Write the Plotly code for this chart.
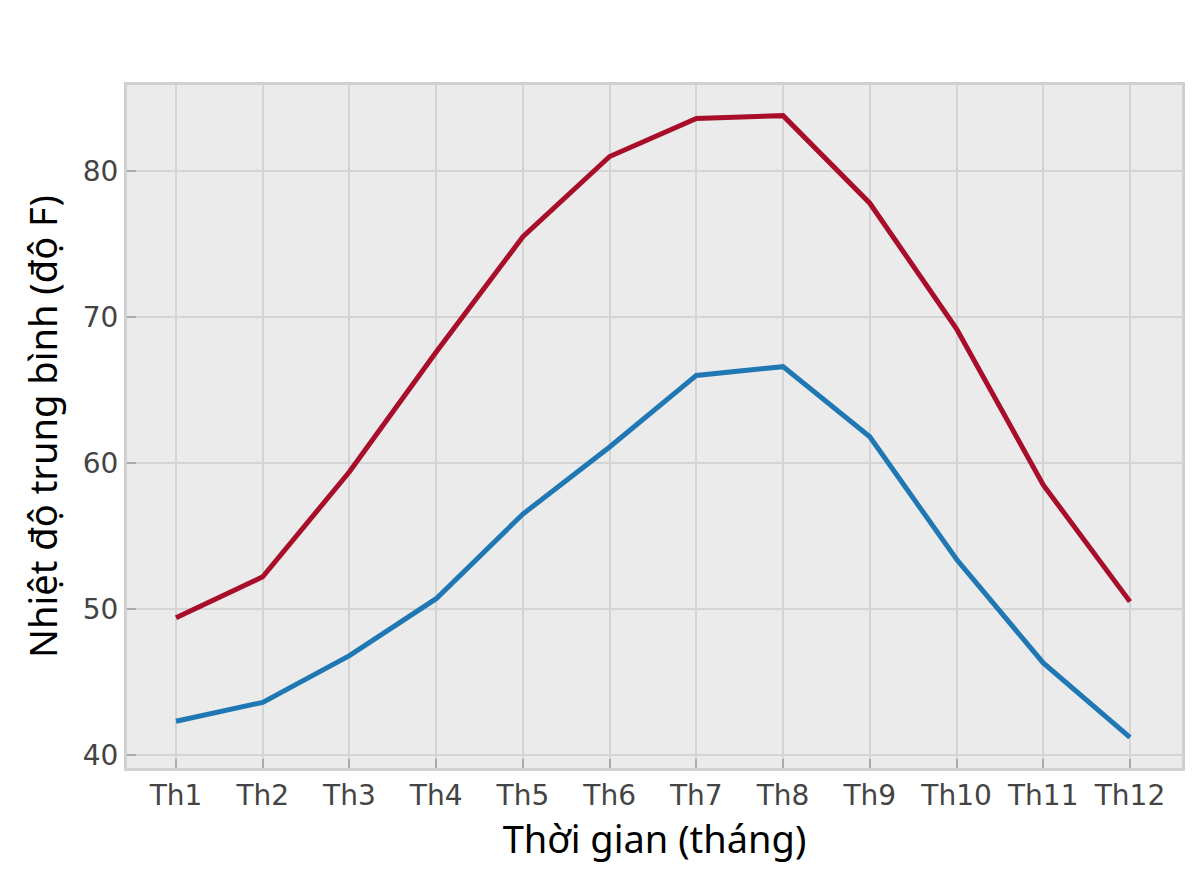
import plotly.graph_objects as go

# months and average temperatures (deg F)
months = ['Th1', 'Th2', 'Th3', 'Th4', 'Th5', 'Th6',
          'Th7', 'Th8', 'Th9', 'Th10', 'Th11', 'Th12']
temp_high = [49.4, 52.2, 59.4, 67.6, 75.5, 81.0, 83.6, 83.8, 77.8, 69.2, 58.5, 50.5]
temp_low = [42.3, 43.6, 46.8, 50.7, 56.5, 61.1, 66.0, 66.6, 61.8, 53.4, 46.3, 41.2]

fig = go.Figure()
fig.add_trace(go.Scatter(x=months, y=temp_high, mode='lines',
                         line=dict(color='#A80E2A', width=5)))
fig.add_trace(go.Scatter(x=months, y=temp_low, mode='lines',
                         line=dict(color='#1F77B4', width=5)))

fig.update_layout(
    width=1200, height=880,
    margin=dict(l=119, r=26, t=77, b=120),
    paper_bgcolor='white',
    plot_bgcolor='#EBEBEB',
    showlegend=False,
)

fig.update_xaxes(
    range=[-0.565, 11.6],
    showgrid=True, gridcolor='#D4D4D4', gridwidth=2,
    ticks='inside', ticklen=9, tickwidth=2, tickcolor='#AAAAAA',
    tickfont=dict(family='DejaVu Sans', size=28, color='#444444'),
    showline=True, linecolor='#D0D0D0', linewidth=3, mirror=True,
    zeroline=False,
    title=dict(text='Thời gian (tháng)', standoff=12,
               font=dict(family='Noto Sans', size=38, color='black')),
)
fig.update_yaxes(
    range=[39.1, 85.9],
    tickvals=[40, 50, 60, 70, 80],
    showgrid=True, gridcolor='#D4D4D4', gridwidth=2,
    ticks='inside', ticklen=9, tickwidth=2, tickcolor='#AAAAAA',
    tickfont=dict(family='DejaVu Sans', size=28, color='#444444'),
    showline=True, linecolor='#D0D0D0', linewidth=3, mirror=True,
    zeroline=False,
    title=dict(text='Nhiệt độ trung bình (độ F)', standoff=14,
               font=dict(family='Noto Sans', size=38, color='black')),
)

fig.write_html("out.html")
